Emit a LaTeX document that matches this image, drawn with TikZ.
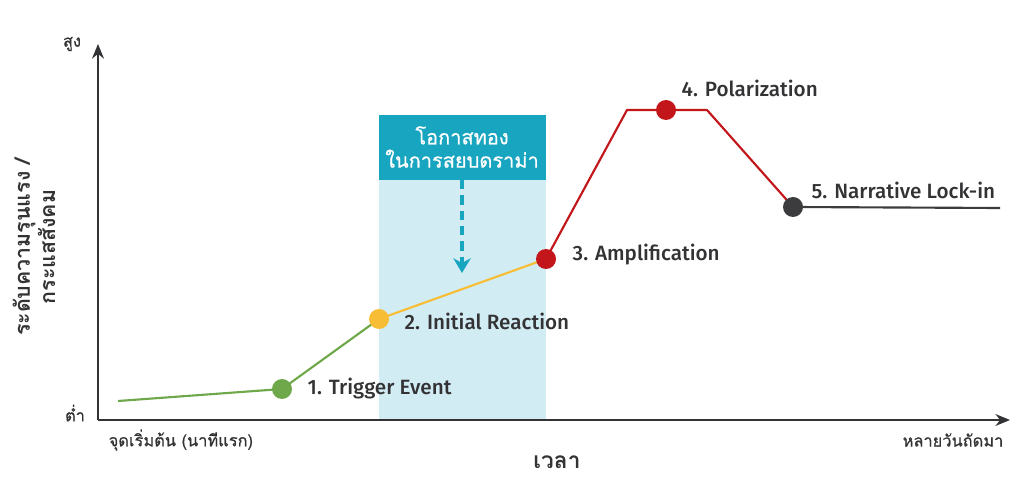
\documentclass[tikz,border=0pt]{standalone}
\usepackage{fontspec}
\setmainfont{Fira Sans}
\newfontfamily\lblfont{Fira Sans Medium}
\newfontfamily\thai[Script=Thai]{Loma}
\newfontfamily\thaim[Script=Thai,FakeBold=0.7]{Loma}
\usetikzlibrary{arrows.meta}
\definecolor{cgreen}{HTML}{6FA84A}
\definecolor{cyellow}{HTML}{F7BE35}
\definecolor{cred}{HTML}{C2161B}
\definecolor{cdark}{HTML}{3C3C3E}
\definecolor{cteal}{HTML}{17A5C0}
\definecolor{clight}{HTML}{D2ECF3}
\definecolor{ctext}{HTML}{333335}
\begin{document}
\begin{tikzpicture}[x=0.75pt,y=-0.75pt,
  dot/.style={circle,inner sep=0pt,minimum size=15pt},
  lbl/.style={anchor=west,text=ctext,font=\lblfont\fontsize{15.5}{17}\selectfont},
  axlbl/.style={text=ctext,font=\thaim\fontsize{12.3}{14}\selectfont},
  curve/.style={line width=1.6pt,line join=round}]
\useasboundingbox (0,0) rectangle (1024,491);
% highlight zone
\fill[clight] (379,115) rectangle (546,420);
\fill[cteal] (379,115) rectangle (546,180);
\node[text=white,align=center,font=\thaim\fontsize{15}{17.5}\selectfont] (zone) at (462,147) {โอกาสทอง\\ในการสยบดราม่า};
\coordinate (ds) at (462,180);
\coordinate (de) at (462,273);
\draw[cteal,line width=3pt,dash pattern=on 7pt off 4.5pt,-{Stealth[length=11pt,width=13pt,inset=3.5pt]}] (ds) -- (de);
% axes
\coordinate (O) at (98,420);
\coordinate (yt) at (98,44);
\coordinate (xt) at (1010,420);
\draw[ctext,line width=1.1pt,-{Stealth[length=11pt,width=9pt]}] (O) -- (yt);
\draw[ctext,line width=1.1pt,-{Stealth[length=11pt,width=9pt]}] (O) -- (xt);
\node[axlbl] (high) at (72,44) {สูง};
\node[axlbl] (low) at (75,413) {ต่ำ};
\node[axlbl,anchor=west] (start) at (104,440) {จุดเริ่มต้น (นาทีแรก)};
\node[axlbl,anchor=east] (later) at (1008,440) {หลายวันถัดมา};
\node[text=ctext,font=\thai\bfseries\fontsize{17}{19}\selectfont] (time) at (557,462) {เวลา};
\node[text=ctext,rotate=90,align=center,font=\thai\bfseries\fontsize{16}{19}\selectfont] (ylab) at (34,247) {ระดับความรุนแรง /\\กระแสสังคม};
% curve
\coordinate (c0) at (118,401);
\coordinate (c1) at (282,389);
\coordinate (c2) at (379,319);
\coordinate (c3) at (546,259);
\coordinate (c4a) at (627,110);
\coordinate (c4) at (666,110);
\coordinate (c4b) at (707,110);
\coordinate (c5) at (793,207);
\coordinate (c6) at (1000,208);
\draw[curve,cgreen] (c0) -- (c1) -- (c2);
\draw[curve,cyellow] (c2) -- (c3);
\draw[curve,cred] (c3) -- (c4a) -- (c4b) -- (c5);
\draw[curve,cdark] (c5) -- (c6);
\node[dot,fill=cgreen] (p1) at (c1) {};
\node[dot,fill=cyellow] (p2) at (c2) {};
\node[dot,fill=cred] (p3) at (c3) {};
\node[dot,fill=cred] (p4) at (c4) {};
\node[dot,fill=cdark] (p5) at (c5) {};
\node[lbl] (l1) at (303,389) {1. Trigger Event};
\node[lbl] (l2) at (400,321) {2. Initial Reaction};
\node[lbl] (l3) at (568,255) {3. Amplification};
\node[lbl] (l4) at (677,88) {4. Polarization};
\node[lbl] (l5) at (807,190) {5. Narrative Lock-in};
\end{tikzpicture}
\end{document}
